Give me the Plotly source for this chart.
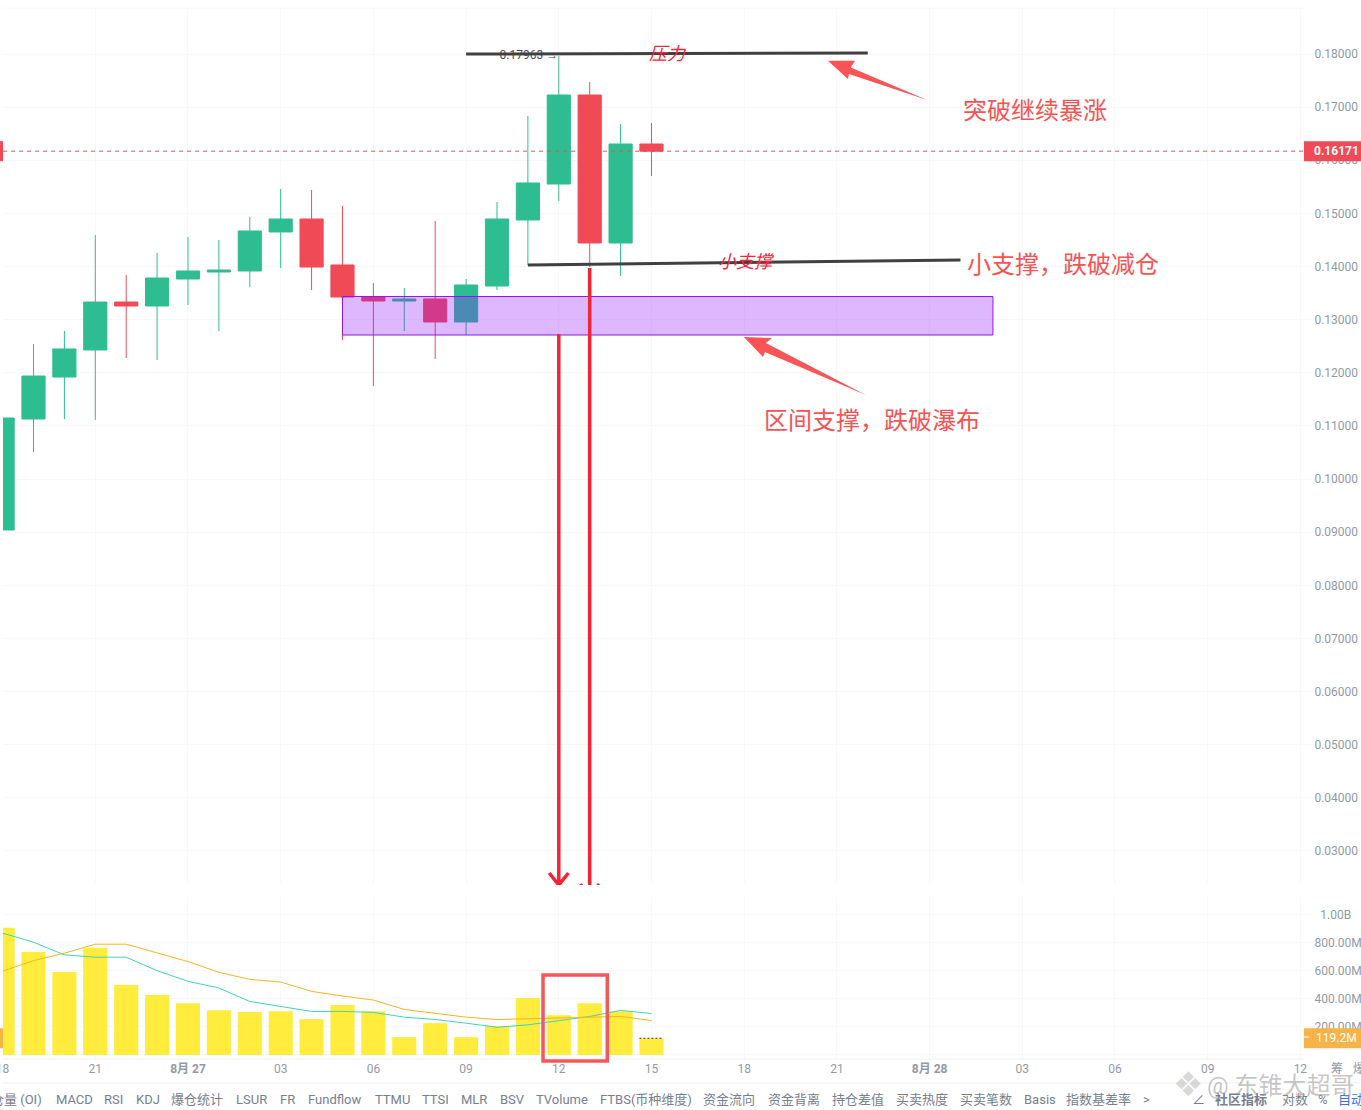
from plotly import graph_objects as go
from plotly import subplots as subplt

# Candles
idx = list(range(22))
opens = [.09041, .11130, .11920, .12429, .13332, .13257, .13765, .13897, .13916, .14650, .14894, .14029,
         .13426, .13351, .13389, .12956, .13633, .14876, .15553, .17228, .14443, .16306]
highs = [.11149, .12542, .12786, .14593, .13840, .14254, .14556, .14499, .14932, .15459, .15440, .15139,
         .13690, .13596, .14857, .13765, .15214, .16833, .17963, .17473, .16682, .16701]
lows = [.09041, .10509, .11130, .11111, .12278, .12240, .13276, .12786, .13615, .13972, .13558, .12617,
        .11751, .12786, .12259, .12711, .13558, .14029, .15233, .13991, .13822, .15704]
closes = [.11149, .11939, .12448, .13332, .13257, .13784, .13916, .13934, .14669, .14894, .13991, .13426,
          .13351, .13389, .12956, .13652, .14894, .15572, .17228, .14443, .16306, .16171]

# Volume pane, in millions
volume = [908, 736, 593, 765, 500, 428, 370, 320, 306, 313, 256, 356,
          313, 127, 227, 127, 206, 406, 284, 370, 313, 119.2]
ma_fast = [870, 805, 715, 698, 698, 602, 526, 478, 382, 347, 311, 311,
           304, 270, 253, 227, 198, 215, 246, 275, 318, 296]
ma_slow = [598, 674, 727, 791, 791, 731, 667, 590, 540, 521, 454, 421,
           392, 325, 296, 270, 253, 258, 261, 268, 275, 246]

# Axis ticks
tick_idx = [0, 3, 6, 9, 12, 15, 18, 21, 24, 27, 30, 33, 36, 39, 42]
tick_txt = ['18', '21', '<b>8月 27</b>', '03', '06', '09', '12', '15', '18', '21', '<b>8月 28</b>',
            '03', '06', '09', '12']
price_ticks = [.03, .04, .05, .06, .07, .08, .09, .10, .11, .12, .13, .14, .15, .16, .17, .18]
vol_ticks = [0, 200, 400, 600, 800, 1000]
vol_txt = ['', '200.00M', '400.00M', '600.00M', '800.00M', '\u00a0\u00a01.00B']

last_price = .16171
last_volume = 119.2

# Drawings on the chart
band_x = [11.0, 32.05]
band_y = [.12711, .13436]
resist_x = [15.0, 28.0]
resist_y = [.18, .18019]
support_x = [17.0, 31.0]
support_y = [.14029, .14123]
drop1 = dict(x=18.0, top=.12730, tip=.02359, wing=.00226, half=.31)
drop2 = dict(x=19.0, top=.13972, tip=.02150, wing=.00226, half=.31)
arrow1_x = [26.71, 27.59, 27.45, 29.92, 27.39, 27.36]
arrow1_y = [.17874, .17874, .17746, .17134, .17624, .17529]
arrow2_x = [23.99, 24.90, 24.70, 27.94, 24.67, 24.61]
arrow2_y = [.12673, .12655, .12560, .11582, .12391, .12297]

big_notes = ['突破继续暴涨', '小支撑，跌破减仓', '区间支撑，跌破瀑布']
big_x = [33.41, 34.32, 28.14]
big_y = [.16946, .14047, .11111]
small_notes = ['压力', '小支撑']
small_x = [21.53, 24.06]
small_y = [.18, .14085]

tabs = ['持仓量 (OI)', 'MACD', 'RSI', 'KDJ', '爆仓统计', 'LSUR', 'FR', 'Fundflow', 'TTMU', 'TTSI', 'MLR', 'BSV',
        'TVolume', 'FTBS(币种维度)', '资金流向', '资金背离', '持仓差值', '买卖热度', '买卖笔数', 'Basis', '指数基差率', '>']
tab_left = [-24, 54, 102, 134, 169, 234, 278, 306, 373, 420, 459, 498, 534, 598, 701, 766, 830, 894, 958, 1022, 1064, 1141]

GREEN = '#2ebd91'
RED = '#f04a56'
YELLOW = '#ffec3d'
GRID = '#f8f8f9'
GRAY = '#929aa5'
CJK = 'Roboto, Noto Sans CJK SC'
NOTE_RED = '#f95252'
ARROW_RED = '#f92233'

W = 1304
TOP = 8
BOTTOM = 1060


def px(x):
  """Page x pixel to paper fraction"""
  return x / W


def py(y):
  """Page y pixel to paper fraction"""
  return (BOTTOM - y) / (BOTTOM - TOP)


def poly(xs, ys):
  """Closed svg path through data points"""
  pts = ['%s%s,%s' % ('M' if i == 0 else 'L', x, y) for i, (x, y) in enumerate(zip(xs, ys))]
  return ' '.join(pts) + ' Z'


def drop_path(d):
  """Long down arrow with an open head"""
  return 'M%s,%s L%s,%s M%s,%s L%s,%s L%s,%s' % (
    d['x'], d['top'], d['x'], d['tip'],
    d['x'] - d['half'], d['tip'] + d['wing'], d['x'], d['tip'], d['x'] + d['half'], d['tip'] + d['wing'])


def page_text(txt, left, y, size, color, family=CJK):
  """Text placed by its left edge in page pixels"""
  return dict(xref='paper', yref='paper', x=px(left), y=py(y), xanchor='left', yanchor='middle',
              showarrow=False, text=txt, font=dict(size=size, color=color, family=family))


fig = subplt.make_subplots(rows=2, cols=1, shared_xaxes=True, vertical_spacing=0.01)

fig.add_trace(
  go.Candlestick(
    x=idx, open=opens, high=highs, low=lows, close=closes,
    increasing=dict(line=dict(color=GREEN, width=1), fillcolor=GREEN),
    decreasing=dict(line=dict(color=RED, width=1), fillcolor=RED),
    whiskerwidth=0, hoverinfo='skip'
  ), row=1, col=1
)
fig.add_trace(
  go.Scatter(
    x=[drop1['x'] - 0.02], y=[highs[18]], mode='text', text=['0.17963 →'], textposition='middle left',
    textfont=dict(size=12, color='#474d57', family='Roboto'), hoverinfo='skip'
  ), row=1, col=1
)
fig.add_trace(go.Bar(x=idx, y=volume, width=0.78, marker=dict(color=YELLOW, line_width=0), hoverinfo='skip'), row=2, col=1)
fig.add_trace(go.Scatter(x=idx, y=ma_fast, mode='lines', line=dict(color='#3fd6b2', width=1), hoverinfo='skip'), row=2, col=1)
fig.add_trace(go.Scatter(x=idx, y=ma_slow, mode='lines', line=dict(color='#fbb322', width=1), hoverinfo='skip'), row=2, col=1)

shapes = [
  # band and level lines
  dict(type='rect', xref='x', yref='y', x0=band_x[0], x1=band_x[1], y0=band_y[0], y1=band_y[1],
       fillcolor='rgba(144,19,254,0.3)', line=dict(color='#9013fe', width=1)),
  dict(type='line', xref='x', yref='y', x0=resist_x[0], x1=resist_x[1], y0=resist_y[0], y1=resist_y[1],
       line=dict(color='#404040', width=3)),
  dict(type='line', xref='x', yref='y', x0=support_x[0], x1=support_x[1], y0=support_y[0], y1=support_y[1],
       line=dict(color='#404040', width=3)),
  # red arrows
  dict(type='path', xref='x', yref='y', path=drop_path(drop1), line=dict(color=ARROW_RED, width=3.5)),
  dict(type='path', xref='x', yref='y', path=drop_path(drop2), line=dict(color=ARROW_RED, width=3.5)),
  dict(type='path', xref='x', yref='y', path=poly(arrow1_x, arrow1_y), fillcolor='#fb5454', line_width=0),
  dict(type='path', xref='x', yref='y', path=poly(arrow2_x, arrow2_y), fillcolor='#fb5454', line_width=0),
  # last price line
  dict(type='line', xref='paper', yref='y', x0=px(3), x1=1, y0=last_price, y1=last_price,
       line=dict(color=RED, width=1, dash='4px,4px')),
  # dashed cap on the last volume bar
  dict(type='line', xref='x2', yref='y2', x0=20.61, x1=21.39, y0=last_volume, y1=last_volume,
       line=dict(color='#333', width=1, dash='2px,2px')),
  # white strip on the left edge, chart starts at 3px
  dict(type='rect', xref='paper', yref='paper', x0=0, x1=px(3), y0=0, y1=py(0), fillcolor='white', line_width=0),
  # tags
  dict(type='rect', xref='paper', yref='y', x0=1, x1=px(1361), ysizemode='pixel', yanchor=last_price, y0=-10, y1=10,
       fillcolor=RED, line_width=0),
  dict(type='rect', xref='paper', yref='y', x0=0, x1=px(3), ysizemode='pixel', yanchor=last_price, y0=-10, y1=10,
       fillcolor=RED, line_width=0),
  dict(type='rect', xref='paper', yref='y2', x0=1, x1=px(1361), ysizemode='pixel', yanchor=last_volume, y0=-10, y1=10,
       fillcolor='#f6b347', line_width=0),
  dict(type='rect', xref='paper', yref='y2', x0=0, x1=px(3), ysizemode='pixel', yanchor=last_volume, y0=-10, y1=10,
       fillcolor='#f6b347', line_width=0),
  dict(type='line', xref='paper', yref='paper', x0=1, x1=px(1309), y0=py(1037), y1=py(1037),
       line=dict(color='white', width=1)),
  # frame lines
  dict(type='line', xref='paper', yref='paper', x0=px(3), x1=1, y0=1, y1=1, line=dict(color=GRID, width=1)),
  dict(type='line', xref='paper', yref='paper', x0=px(3), x1=1, y0=py(1059), y1=py(1059), line=dict(color='#f0f1f2', width=1)),
  dict(type='line', xref='paper', yref='paper', x0=px(3), x1=px(1361), y0=py(1083), y1=py(1083), line=dict(color='#f0f1f2', width=1)),
  # box around the two volume bars
  dict(type='rect', xref='x2', yref='paper', x0=17.49, x1=19.57, y0=py(1061), y1=py(975),
       line=dict(color='#f65757', width=3.5)),
]

annotations = []
for txt, x, y in zip(big_notes, big_x, big_y):
  annotations.append(dict(xref='x', yref='y', x=x, y=y, yshift=2, text=txt, showarrow=False,
                          font=dict(size=24, color=NOTE_RED, family='Noto Sans CJK SC')))
for txt, x, y in zip(small_notes, small_x, small_y):
  annotations.append(dict(xref='x', yref='y', x=x, y=y, yshift=2, text=txt, showarrow=False,
                          font=dict(size=18, color='#ff2238', family='Noto Sans CJK SC', style='italic')))

annotations.append(dict(xref='paper', yref='y', x=px(1312), y=last_price, xanchor='left', showarrow=False,
                        text='<b>0.16171</b>', font=dict(size=12, color='white', family='Roboto')))
annotations.append(dict(xref='paper', yref='y2', x=px(1314), y=last_volume, xanchor='left', showarrow=False,
                        text='119.2M', font=dict(size=12, color='white', family='Roboto')))

for name, left in zip(tabs, tab_left):
  annotations.append(page_text(name, left, 1099, 13, '#76808f'))

# bottom right corner
for txt, left, color in [('∠', 1190, '#76808f'), ('<b>社区指标</b>', 1213, '#76808f'), ('对数', 1280, '#76808f'),
                         ('%', 1316, '#76808f'), ('自动', 1336, '#3b6ff5')]:
  annotations.append(page_text(txt, left, 1099, 13, color))
for txt, left in [('筹', 1329), ('爆', 1351)]:
  annotations.append(page_text(txt, left, 1069, 12, GRAY))

# watermark
annotations.append(page_text('❖', 1171, 1084, 34, 'rgba(170,170,170,0.45)', 'DejaVu Sans'))
annotations.append(page_text('@ 东锥大超哥', 1205, 1086, 24, 'rgba(150,150,150,0.55)'))

layout = go.Layout(
  width=1361,
  height=1110,
  margin=dict(l=0, r=57, t=TOP, b=1110 - BOTTOM),
  paper_bgcolor='white',
  plot_bgcolor='white',
  showlegend=False,
  boxgap=0.25,
  boxgroupgap=0,
  bargap=0.22,
  shapes=shapes,
  annotations=annotations,
  font=dict(family='Roboto', size=12, color=GRAY),
)
fig.update_layout(layout)

fig.update_xaxes(
  range=[-0.084, 42.117], tickvals=tick_idx, ticktext=tick_txt, gridcolor=GRID, gridwidth=1,
  showline=False, zeroline=False, ticks='', rangeslider=dict(visible=False), automargin=False,
  ticklabeloverflow='allow', tickfont=dict(size=12, color=GRAY, family=CJK)
)
fig.update_yaxes(
  row=1, col=1, side='right', domain=[py(885), 1], range=[.02359, .18866], tickvals=price_ticks, tickformat='.5f',
  gridcolor=GRID, zeroline=False, ticks='outside', ticklen=7, tickcolor=GRID, automargin=False,
  ticklabeloverflow='allow', tickfont=dict(size=12, color=GRAY)
)
fig.update_yaxes(
  row=2, col=1, side='right', domain=[0, py(897)], range=[-36, 1128], tickvals=vol_ticks, ticktext=vol_txt,
  gridcolor=GRID, zeroline=False, ticks='outside', ticklen=7, tickcolor=GRID, automargin=False,
  ticklabeloverflow='allow', tickfont=dict(size=12, color=GRAY)
)

fig.write_html("out.html", config=dict(displayModeBar=False), post_script="document.body.style.margin='0';")
